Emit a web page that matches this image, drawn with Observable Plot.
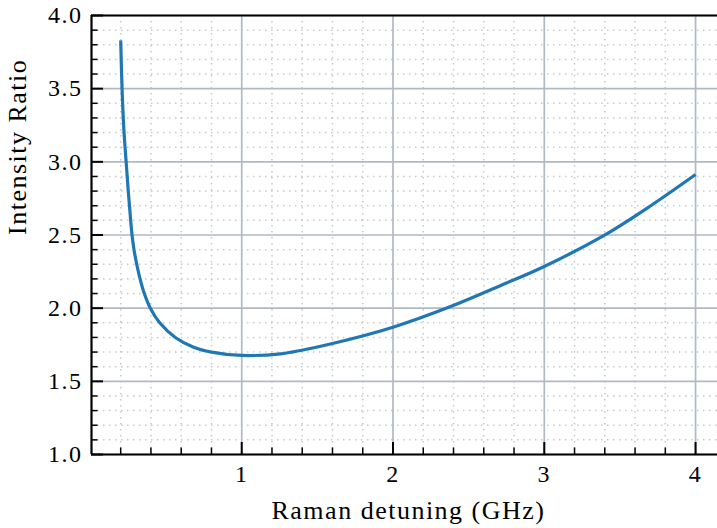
<!DOCTYPE html>
<html>
<head>
<meta charset="utf-8">
<script src="https://cdn.jsdelivr.net/npm/d3@7"></script>
<script src="https://cdn.jsdelivr.net/npm/@observablehq/plot@0.6"></script>
<style>
  body { margin: 0; background: #fff; }
  #chart svg { display: block; }
</style>
</head>
<body>
<div id="chart"></div>
<script>
// Data
const detuning = [0.200, 0.209, 0.221, 0.236, 0.243, 0.250, 0.258, 0.266, 0.275, 0.288, 0.306, 0.328, 0.356, 0.396, 0.458, 0.561, 0.682, 0.800, 1.000, 1.257, 1.389, 1.587, 2.000, 2.381, 2.712, 3.000, 3.395, 3.704, 4.000];
const ratio    = [3.83, 3.50, 3.22, 3.00, 2.90, 2.80, 2.70, 2.60, 2.50, 2.40, 2.30, 2.20, 2.10, 2.00, 1.90, 1.80, 1.733, 1.70, 1.677, 1.688, 1.711, 1.755, 1.87, 2.011, 2.155, 2.285, 2.497, 2.70, 2.913];

const xLimits = [0.007, 4.145];
const yLimits = [1, 4];
const xMajorTicks = [1, 2, 3, 4];
const xMinorTicks = [0.2, 0.4, 0.6, 0.8, 1.2, 1.4, 1.6, 1.8, 2.2, 2.4, 2.6, 2.8, 3.2, 3.4, 3.6, 3.8];
const yMajorTicks = [1.0, 1.5, 2.0, 2.5, 3.0, 3.5, 4.0];
const yMinorTicks = [1.1, 1.2, 1.3, 1.4, 1.6, 1.7, 1.8, 1.9, 2.1, 2.2, 2.3, 2.4, 2.6, 2.7, 2.8, 2.9, 3.1, 3.2, 3.3, 3.4, 3.6, 3.7, 3.8, 3.9];
const xLabel = "Raman detuning (GHz)";
const yLabel = "Intensity Ratio";

const points = detuning.map((d, i) => ({x: d, y: ratio[i]}));

const W = 717, H = 528;
const mL = 91, mR = 0, mT = 15, mB = 74;
const innerW = W - mL - mR, innerH = H - mT - mB;
const majorLen = 12, minorLen = 6.5;

const chart = Plot.plot({
  width: W,
  height: H,
  marginLeft: mL, marginRight: mR, marginTop: mT, marginBottom: mB,
  x: {domain: xLimits},
  y: {domain: yLimits},
  style: {fontFamily: "'Liberation Serif', 'Times New Roman', serif", background: "#fff", color: "#000", overflow: "visible"},
  marks: [
    // minor grid (dotted)
    Plot.ruleX(xMinorTicks, {x: d => d, stroke: "#c3c9d1", strokeWidth: 1.5, strokeDasharray: "1.5,4.5"}),
    Plot.ruleY(yMinorTicks, {y: d => d, stroke: "#c3c9d1", strokeWidth: 1.5, strokeDasharray: "1.5,4.5"}),
    // major grid
    Plot.ruleX(xMajorTicks, {x: d => d, stroke: "#b1b9c3", strokeWidth: 1.7}),
    Plot.ruleY(yMajorTicks, {y: d => d, stroke: "#b1b9c3", strokeWidth: 1.7}),
    // curve
    Plot.line(points, {x: "x", y: "y", stroke: "#1f77b4", strokeWidth: 3.2, curve: "catmull-rom", strokeLinecap: "butt"}),
    // spines
    Plot.ruleY(yLimits, {y: d => d, stroke: "#000", strokeWidth: 2.2}),
    Plot.ruleX([xLimits[0]], {x: d => d, stroke: "#000", strokeWidth: 2.2}),
    // inward ticks
    Plot.tickX(xMajorTicks, {x: d => d, insetTop: innerH - majorLen, stroke: "#000", strokeWidth: 2}),
    Plot.tickX(xMinorTicks, {x: d => d, insetTop: innerH - minorLen, stroke: "#000", strokeWidth: 1.5}),
    Plot.tickY(yMajorTicks, {y: d => d, insetRight: innerW - majorLen, stroke: "#000", strokeWidth: 2}),
    Plot.tickY(yMinorTicks, {y: d => d, insetRight: innerW - minorLen, stroke: "#000", strokeWidth: 1.5}),
    // tick labels
    Plot.axisX(xMajorTicks, {tickSize: 0, tickPadding: 10, fontSize: 24, label: null, tickFormat: d => String(d)}),
    Plot.axisY(yMajorTicks, {tickSize: 0, tickPadding: 9, fontSize: 24, label: null, tickFormat: d => d.toFixed(1)}),
    // axis labels
    Plot.text([xLabel], {text: d => d, frameAnchor: "bottom", dx: 4, dy: 56, lineAnchor: "middle", fontSize: 26}),
    Plot.text([yLabel], {text: d => d, frameAnchor: "left", rotate: -90, dx: -74, lineAnchor: "middle", fontSize: 26})
  ]
});

d3.select(chart).selectAll("text").style("letter-spacing", "1.5px");
document.getElementById("chart").appendChild(chart);
</script>
</body>
</html>
